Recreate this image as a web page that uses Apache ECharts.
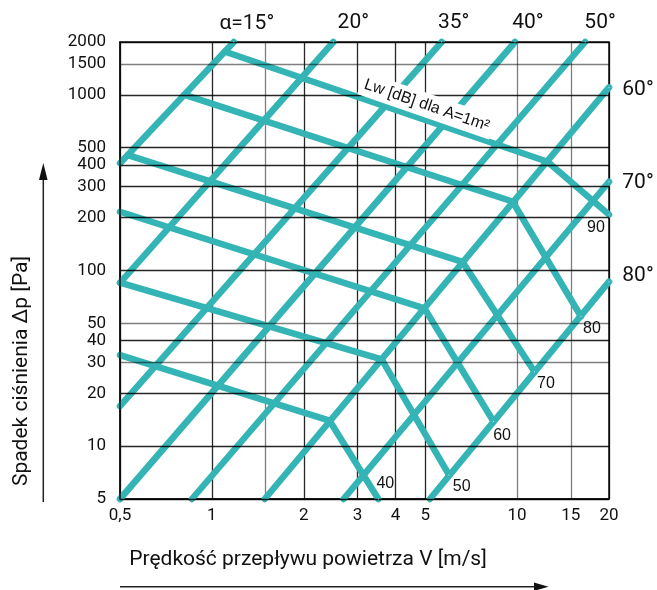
<!DOCTYPE html>
<html>
<head>
<meta charset="utf-8">
<script src="https://cdn.jsdelivr.net/npm/echarts@6/dist/echarts.min.js"></script>
<style>
  html, body { margin: 0; padding: 0; background: #fff; }
  #chart { width: 657px; height: 590px; }
</style>
</head>
<body>
<div id="chart"></div>
<script>
// axis values (both axes logarithmic)
var xLabels = [0.5, 1, 2, 3, 4, 5, 10, 15, 20]
var xGrid = [0.5, 1, 1.5, 2, 3, 4, 5, 10, 15, 20]
var yLabels = [5, 10, 20, 30, 40, 50, 100, 200, 300, 400, 500, 1000, 1500, 2000]

// rising lines, one per blade angle: [V m/s, dp Pa]
var alphaNames = ['α=15°', '20°', '35°', '40°', '50°', '60°', '70°', '80°']
var alphaLines = [
  [[0.5, 408], [1.18, 2000]],
  [[0.5, 85], [2.5, 2000]],
  [[0.5, 16.9], [5.66, 2000]],
  [[0.5, 5], [9.84, 2000]],
  [[0.86, 5], [16.7, 2000]],
  [[1.49, 5], [20, 1104]],
  [[2.7, 5], [20, 320]],
  [[5.18, 5], [20, 86.4]]
]

// noise lines Lw [dB]: start, knee, end
var lwNames = ['90', '80', '70', '60', '50', '40']
var lwLines = [
  [[1.106, 1761], [12.58, 416], [20, 208]],
  [[0.815, 1000], [9.66, 247], [16.19, 54.7]],
  [[0.531, 454], [6.62, 112], [11.4, 26.5]],
  [[0.5, 216], [4.97, 60.9], [8.37, 13.8]],
  [[0.5, 85.2], [3.6, 31.2], [5.98, 6.85]],
  [[0.5, 33], [2.43, 13.96], [3.51, 5]]
]
var lwTitle = 'Lw [dB] dla A=1m²'
var lwTitleAt = [5.06, 871]

var teal = '#34b4b4'
var din = 'Roboto'
var arial = '"Liberation Sans", Arial'

// label offsets in px from the line end
var alphaOffsets = [[13, -18], [20, -19], [12, -19], [13, -19], [15, -19], [29, 2], [29, 1], [29, -6]]
var lwOffsets = [[-13, 13], [11, 12], [11.5, 11.5], [8.5, 14], [12.7, 11.7], [7, -15]]

function fmt(v) {
  return String(+(+v).toPrecision(6)).replace('.', ',')
}

function gridColors(ticks, greys) {
  return ticks.map(function(t) {
    return greys.indexOf(t) >= 0 ? 'rgba(0,0,0,0.5)' : 'rgba(0,0,0,0.85)'
  })
}

var series = []
alphaLines.forEach(function(pts, i) {
  series.push({
    name: alphaNames[i],
    type: 'line',
    data: pts,
    symbol: 'none',
    clip: false,
    silent: true,
    z: 2,
    lineStyle: { color: teal, width: 6.5, cap: 'round', join: 'round' }
  })
})
lwLines.forEach(function(pts, i) {
  series.push({
    name: 'Lw ' + lwNames[i],
    type: 'line',
    data: pts,
    symbol: 'none',
    clip: false,
    silent: true,
    z: 2,
    lineStyle: { color: teal, width: 6.5, cap: 'round', join: 'round' }
  })
})

// text-only scatter series (invisible points, labels only)
function labelSeries(data, label, z) {
  label.show = true
  label.position = 'inside'
  label.formatter = '{b}'
  label.opacity = 1
  label.color = '#111'
  return {
    type: 'scatter',
    symbolSize: 1,
    clip: false,
    silent: true,
    z: z,
    itemStyle: { color: '#fff', opacity: 1 },
    label: label,
    data: data
  }
}

// angle labels
series.push(labelSeries(alphaLines.map(function(pts, i) {
  return { name: alphaNames[i], value: pts[pts.length - 1], label: { offset: alphaOffsets[i] } }
}), { fontFamily: din, fontSize: 21 }, 6))
// dB labels
series.push(labelSeries(lwLines.map(function(pts, i) {
  return { name: lwNames[i], value: pts[pts.length - 1], label: { offset: lwOffsets[i] } }
}), { fontFamily: arial, fontSize: 16 }, 6))
// title along the top noise line, white box hides what is under it
series.push(labelSeries([{ name: lwTitle, value: lwTitleAt }], {
  rotate: -19, fontFamily: arial, fontSize: 16, backgroundColor: '#fff', padding: [4, 4]
}, 5))

var chart = echarts.init(document.getElementById('chart'))
chart.setOption({
  animation: false,
  grid: { left: 120, right: 48, top: 42, bottom: 91, show: true, borderColor: '#111', borderWidth: 1.5 },
  xAxis: {
    type: 'log',
    logBase: 10,
    min: 0.5,
    max: 20,
    axisLine: { show: true, lineStyle: { color: '#111', width: 1.5 } },
    axisTick: { show: false, customValues: xGrid },
    axisLabel: { customValues: xLabels, formatter: fmt, margin: 8, color: '#111', fontFamily: din, fontSize: 17 },
    splitLine: { show: true, lineStyle: { color: gridColors(xGrid, [1.5, 10, 15]), width: 1.3 } }
  },
  yAxis: {
    type: 'log',
    logBase: 10,
    min: 5,
    max: 2000,
    z: 3,
    axisLine: { show: true, lineStyle: { color: '#111', width: 1.5 } },
    axisTick: { show: false, customValues: yLabels },
    axisLabel: { customValues: yLabels, formatter: fmt, margin: 14, color: '#111', fontFamily: din, fontSize: 17 },
    splitLine: { show: true, lineStyle: { color: gridColors(yLabels, [30, 50, 1500]), width: 1.3 } }
  },
  graphic: [
    {
      type: 'text', x: 308, y: 560,
      style: { text: 'Prędkość przepływu powietrza V [m/s]', font: '21px Roboto', fill: '#111', align: 'center', verticalAlign: 'middle' }
    },
    {
      type: 'text', x: 22, y: 371, rotation: Math.PI / 2,
      style: { text: 'Spadek ciśnienia Δp [Pa]', font: '21px Roboto', fill: '#111', align: 'center', verticalAlign: 'middle' }
    },
    { type: 'line', shape: { x1: 43.3, y1: 502, x2: 43.3, y2: 176 }, style: { stroke: '#222', lineWidth: 1.5 } },
    { type: 'polygon', shape: { points: [[43.3, 163], [39, 180], [47.6, 180]] }, style: { fill: '#111' } },
    { type: 'line', shape: { x1: 120, y1: 586.7, x2: 536, y2: 586.7 }, style: { stroke: '#222', lineWidth: 1.5 } },
    { type: 'polygon', shape: { points: [[548.5, 586.7], [534, 582.5], [534, 590.9]] }, style: { fill: '#111' } }
  ],
  series: series
})
</script>
</body>
</html>
